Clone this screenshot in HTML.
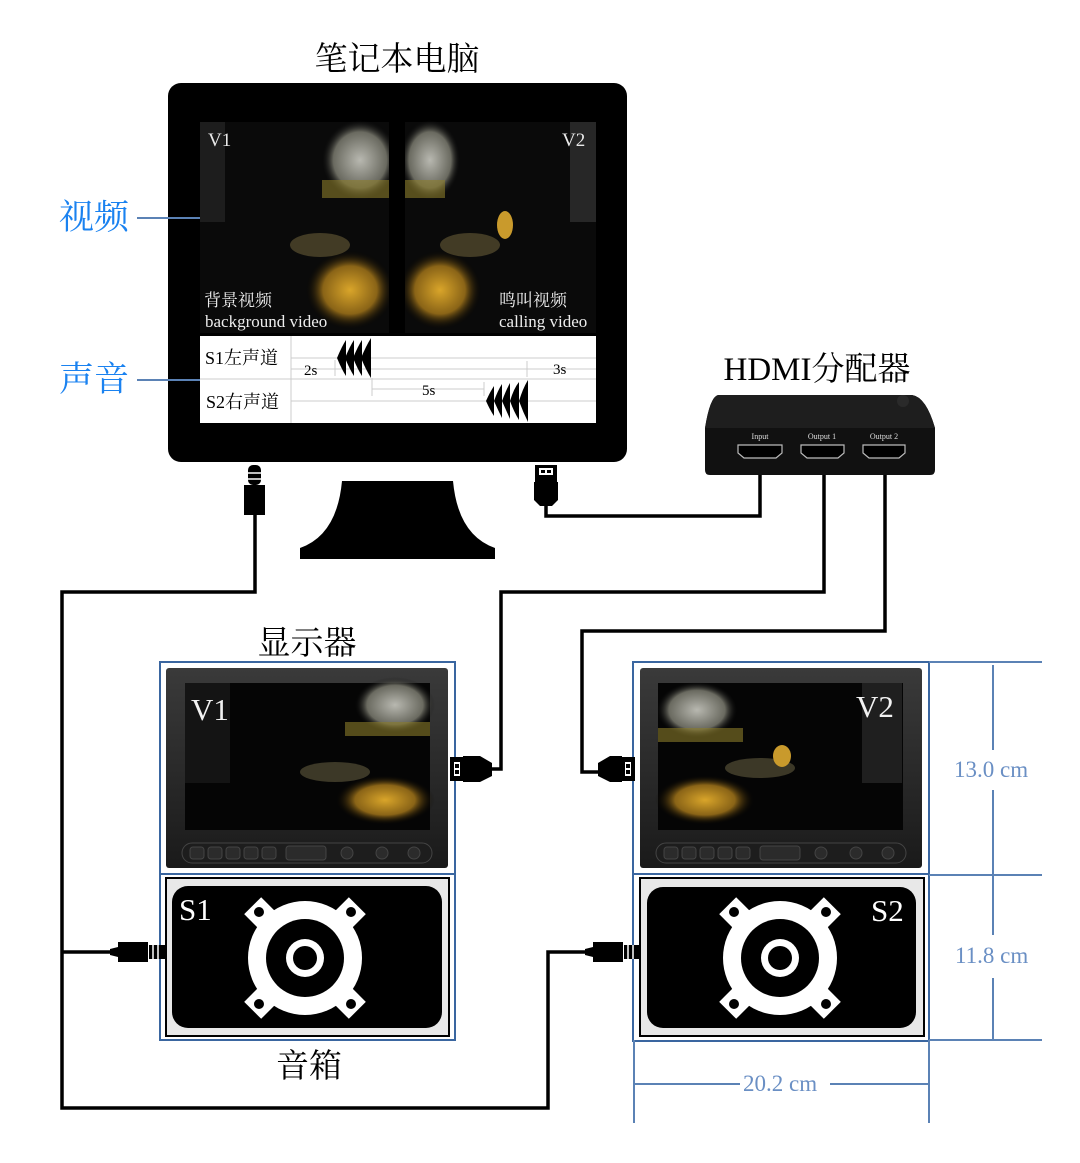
<!DOCTYPE html>
<html><head><meta charset="utf-8"><style>
body{margin:0;background:#fff}
svg{display:block}
.cn{font-family:"Liberation Serif","Noto Serif CJK SC",serif}
</style></head><body>
<svg width="1080" height="1163" viewBox="0 0 1080 1163" xmlns="http://www.w3.org/2000/svg" class="cn">
<defs>
<radialGradient id="gy" cx="0.5" cy="0.5" r="0.5"><stop offset="0" stop-color="#d9a52a"/><stop offset="0.6" stop-color="#8a6417"/><stop offset="1" stop-color="#000" stop-opacity="0"/></radialGradient>
<radialGradient id="gg" cx="0.5" cy="0.5" r="0.5"><stop offset="0" stop-color="#b8b8b0"/><stop offset="0.7" stop-color="#6a6a60"/><stop offset="1" stop-color="#111" stop-opacity="0"/></radialGradient>
<linearGradient id="bz" x1="0" y1="0" x2="0" y2="1"><stop offset="0" stop-color="#3a3a3a"/><stop offset="1" stop-color="#1a1a1a"/></linearGradient>
<g id="spk">
 <g fill="#fff">
  <rect x="-12" y="-74" width="24" height="40" transform="rotate(45)"/>
  <rect x="-12" y="-74" width="24" height="40" transform="rotate(135)"/>
  <rect x="-12" y="-74" width="24" height="40" transform="rotate(225)"/>
  <rect x="-12" y="-74" width="24" height="40" transform="rotate(315)"/>
  <circle r="57"/>
 </g>
 <g fill="#000">
  <circle cx="-46" cy="-46" r="5"/><circle cx="46" cy="-46" r="5"/><circle cx="-46" cy="46" r="5"/><circle cx="46" cy="46" r="5"/>
  <circle r="39"/>
 </g>
 <circle r="19" fill="#fff"/><circle r="12" fill="#000"/>
</g>
<g id="btns" fill="#2b2b2b" stroke="#444" stroke-width="1">
 <rect x="0" y="0" width="250" height="20" rx="10" fill="#1d1d1d"/>
 <rect x="8" y="4" width="14" height="12" rx="3"/><rect x="26" y="4" width="14" height="12" rx="3"/><rect x="44" y="4" width="14" height="12" rx="3"/><rect x="62" y="4" width="14" height="12" rx="3"/><rect x="80" y="4" width="14" height="12" rx="3"/>
 <rect x="104" y="3" width="40" height="14" rx="3"/>
 <circle cx="165" cy="10" r="6"/><circle cx="200" cy="10" r="6"/><circle cx="232" cy="10" r="6"/>
</g>
</defs>

<text x="397" y="70" font-size="33" text-anchor="middle">笔记本电脑</text>
<text x="59" y="229" font-size="35" fill="#1a82f0">视频</text>
<text x="59" y="391" font-size="35" fill="#1a82f0">声音</text>
<line x1="137" y1="218" x2="200" y2="218" stroke="#5b82b5" stroke-width="2"/>
<line x1="137" y1="380" x2="200" y2="380" stroke="#5b82b5" stroke-width="2"/>

<rect x="168" y="83" width="459" height="379" rx="13" fill="#000"/>
<line x1="168" y1="218" x2="200" y2="218" stroke="#5b82b5" stroke-width="2"/>
<line x1="168" y1="380" x2="200" y2="380" stroke="#5b82b5" stroke-width="2"/>
<rect x="200" y="122" width="396" height="211" fill="#050505"/>
<rect x="200" y="122" width="189" height="211" fill="#0a0a0a"/>
<rect x="405" y="122" width="191" height="211" fill="#0a0a0a"/>
<ellipse cx="360" cy="160" rx="38" ry="40" fill="url(#gg)"/>
<ellipse cx="430" cy="160" rx="30" ry="40" fill="url(#gg)"/>
<rect x="322" y="180" width="67" height="18" fill="#8a7b2a" opacity="0.6"/>
<rect x="405" y="180" width="40" height="18" fill="#8a7b2a" opacity="0.6"/>
<ellipse cx="350" cy="290" rx="45" ry="40" fill="url(#gy)"/>
<ellipse cx="440" cy="290" rx="42" ry="40" fill="url(#gy)"/>
<ellipse cx="320" cy="245" rx="30" ry="12" fill="#5a5030" opacity="0.7"/>
<ellipse cx="470" cy="245" rx="30" ry="12" fill="#5a5030" opacity="0.7"/>
<ellipse cx="505" cy="225" rx="8" ry="14" fill="#c99a2c"/>
<rect x="200" y="122" width="25" height="100" fill="#2a2a2a" opacity="0.6"/>
<rect x="570" y="122" width="26" height="100" fill="#3a3a3a" opacity="0.6"/>
<rect x="389" y="122" width="16" height="211" fill="#000"/>
<text x="208" y="146" font-size="19" fill="#e8e8e8">V1</text>
<text x="562" y="146" font-size="19" fill="#e8e8e8">V2</text>
<text x="204" y="306" font-size="17" fill="#eee">背景视频</text>
<text x="205" y="327" font-size="17" fill="#eee">background video</text>
<text x="499" y="306" font-size="17" fill="#eee">鸣叫视频</text>
<text x="499" y="327" font-size="17" fill="#eee">calling video</text>
<rect x="200" y="336" width="396" height="87" fill="#fff"/>
<g stroke="#ccc" stroke-width="1">
<line x1="291" y1="336" x2="291" y2="423"/>
<line x1="291" y1="358" x2="596" y2="358"/>
<line x1="291" y1="369" x2="596" y2="369"/>
<line x1="200" y1="379" x2="596" y2="379"/>
<line x1="372" y1="389" x2="484" y2="389"/>
<line x1="291" y1="401" x2="596" y2="401"/>
<line x1="335" y1="360" x2="335" y2="376"/>
<line x1="372" y1="378" x2="372" y2="396"/>
<line x1="484" y1="382" x2="484" y2="396"/>
<line x1="527" y1="361" x2="527" y2="377"/>
</g>
<text x="205" y="364" font-size="18">S1左声道</text>
<text x="206" y="408" font-size="18">S2右声道</text>
<text x="304" y="375" font-size="15">2s</text>
<text x="553" y="374" font-size="15">3s</text>
<text x="422" y="395" font-size="15">5s</text>
<g fill="#000">
<path d="M337 358 Q342 346 346 340 L346 376 Q342 370 337 358Z"/>
<path d="M345 358 Q350 346 354 340 L354 376 Q350 370 345 358Z"/>
<path d="M353 358 Q358 346 362 340 L362 376 Q358 370 353 358Z"/>
<path d="M361 358 Q366 346 371 338 L371 378 Q366 370 361 358Z"/>
<path d="M486 401 Q490 392 494 386 L494 416 Q490 410 486 401Z"/>
<path d="M494 401 Q498 390 502 384 L502 418 Q498 410 494 401Z"/>
<path d="M502 401 Q506 390 510 383 L510 419 Q506 410 502 401Z"/>
<path d="M510 401 Q514 388 519 382 L519 420 Q514 412 510 401Z"/>
<path d="M519 401 Q523 388 528 380 L528 422 Q523 412 519 401Z"/>
</g>

<path d="M342 481 L453 481 Q458 535 495 548 L495 559 L300 559 L300 548 Q337 535 342 481Z" fill="#000"/>

<g fill="none" stroke="#000" stroke-width="3.5">
<path d="M255 515 L255 592 L62 592 L62 1108 L548 1108 L548 952 L595 952"/>
<path d="M62 952 L118 952"/>
<path d="M546 505 L546 516 L760 516 L760 474"/>
<path d="M824 474 L824 592 L501 592 L501 769 L488 769"/>
<path d="M885 474 L885 631 L582 631 L582 772 L598 772"/>
</g>
<rect x="248" y="465" width="13" height="20" rx="5" fill="#000"/>
<line x1="248" y1="473" x2="261" y2="473" stroke="#fff" stroke-width="1.5"/>
<line x1="248" y1="479" x2="261" y2="479" stroke="#fff" stroke-width="1.5"/>
<rect x="244" y="485" width="21" height="30" fill="#000"/>
<rect x="535" y="465" width="22" height="18" fill="#000"/><rect x="539" y="468" width="14" height="7" fill="#fff"/><rect x="541" y="470" width="4" height="3"/><rect x="547" y="470" width="4" height="3"/>
<path d="M534 482 L558 482 L558 500 L552 506 L540 506 L534 500Z" fill="#000"/>

<text x="817" y="380" font-size="33" text-anchor="middle">HDMI分配器</text>
<path d="M718 395 L912 395 Q926 397 935 428 L935 470 Q935 475 930 475 L710 475 Q705 475 705 470 L705 428 Q710 397 718 395Z" fill="#111"/>
<path d="M718 395 L912 395 Q926 397 935 428 L705 428 Q710 397 718 395Z" fill="#1e1e1e"/>
<circle cx="903" cy="401" r="6" fill="#2a2a2a"/>
<g font-family="Liberation Serif,serif" font-size="8" fill="#ddd" text-anchor="middle">
<text x="760" y="439">Input</text><text x="822" y="439">Output 1</text><text x="884" y="439">Output 2</text></g>
<g fill="#000" stroke="#bbb" stroke-width="1.2">
<path d="M738 445 L782 445 L782 453 L776 458 L744 458 L738 453Z"/>
<path d="M801 445 L844 445 L844 453 L838 458 L807 458 L801 453Z"/>
<path d="M863 445 L905 445 L905 453 L899 458 L869 458 L863 453Z"/>
</g>

<text x="307" y="654" font-size="33" text-anchor="middle">显示器</text>
<rect x="160" y="662" width="295" height="378" fill="none" stroke="#3a66a0" stroke-width="2"/>
<line x1="160" y1="874" x2="455" y2="874" stroke="#3a66a0" stroke-width="2"/>
<rect x="166" y="668" width="282" height="200" rx="3" fill="url(#bz)"/>
<rect x="185" y="683" width="245" height="147" fill="#050505"/>
<ellipse cx="395" cy="705" rx="40" ry="28" fill="url(#gg)"/>
<rect x="345" y="722" width="85" height="14" fill="#8a7b2a" opacity="0.6"/>
<ellipse cx="385" cy="800" rx="50" ry="25" fill="url(#gy)"/>
<ellipse cx="335" cy="772" rx="35" ry="10" fill="#4a4530" opacity="0.8"/>
<rect x="185" y="683" width="45" height="100" fill="#2a2a2a" opacity="0.4"/>
<text x="191" y="720" font-size="31" fill="#f2f2f2">V1</text>
<use href="#btns" x="182" y="843"/>
<rect x="166" y="878" width="283" height="158" fill="#e8e8e8" stroke="#000" stroke-width="2"/>
<rect x="172" y="886" width="270" height="142" rx="16" fill="#000"/>
<text x="179" y="920" font-size="31" fill="#fff">S1</text>
<use href="#spk" x="305" y="958"/>
<text x="309" y="1077" font-size="33" text-anchor="middle">音箱</text>
<rect x="450" y="757" width="14" height="24" fill="#000"/><rect x="454" y="762" width="6" height="14" fill="#fff"/><rect x="455" y="764" width="4" height="4"/><rect x="455" y="770" width="4" height="4"/>
<path d="M463 756 L480 756 L492 763 L492 776 L480 782 L463 782Z" fill="#000"/>
<path d="M110 949 L118 947 L118 942 L148 942 L148 962 L118 962 L118 957 L110 955Z" fill="#000"/>
<rect x="149" y="945" width="16" height="14" fill="#000"/>
<line x1="153" y1="945" x2="153" y2="959" stroke="#fff" stroke-width="1.5"/><line x1="158" y1="945" x2="158" y2="959" stroke="#fff" stroke-width="1.5"/>

<rect x="633" y="662" width="296" height="379" fill="none" stroke="#3a66a0" stroke-width="2"/>
<line x1="633" y1="874" x2="929" y2="874" stroke="#3a66a0" stroke-width="2"/>
<rect x="640" y="668" width="282" height="200" rx="3" fill="url(#bz)"/>
<rect x="658" y="683" width="245" height="147" fill="#050505"/>
<ellipse cx="697" cy="710" rx="40" ry="28" fill="url(#gg)"/>
<rect x="658" y="728" width="85" height="14" fill="#8a7b2a" opacity="0.6"/>
<ellipse cx="705" cy="800" rx="50" ry="25" fill="url(#gy)"/>
<ellipse cx="760" cy="768" rx="35" ry="10" fill="#4a4530" opacity="0.8"/>
<ellipse cx="782" cy="756" rx="9" ry="11" fill="#c99a2c"/>
<rect x="862" y="683" width="40" height="100" fill="#3a3a3a" opacity="0.5"/>
<text x="856" y="717" font-size="31" fill="#f2f2f2">V2</text>
<use href="#btns" x="656" y="843"/>
<rect x="640" y="878" width="284" height="158" fill="#e8e8e8" stroke="#000" stroke-width="2"/>
<rect x="647" y="887" width="269" height="141" rx="16" fill="#000"/>
<text x="871" y="921" font-size="31" fill="#fff">S2</text>
<use href="#spk" x="780" y="958"/>
<path d="M598 763 L610 756 L622 756 L622 782 L610 782 L598 776Z" fill="#000"/>
<rect x="621" y="757" width="14" height="24" fill="#000"/><rect x="625" y="762" width="6" height="14" fill="#fff"/><rect x="626" y="764" width="4" height="4"/><rect x="626" y="770" width="4" height="4"/>
<path d="M585 949 L593 947 L593 942 L623 942 L623 962 L593 962 L593 957 L585 955Z" fill="#000"/>
<rect x="624" y="945" width="16" height="14" fill="#000"/>
<line x1="628" y1="945" x2="628" y2="959" stroke="#fff" stroke-width="1.5"/><line x1="633" y1="945" x2="633" y2="959" stroke="#fff" stroke-width="1.5"/>

<g stroke="#5b82b5" stroke-width="2" fill="none">
<line x1="929" y1="662" x2="1042" y2="662"/>
<line x1="929" y1="875" x2="1042" y2="875"/>
<line x1="929" y1="1040" x2="1042" y2="1040"/>
<line x1="993" y1="665" x2="993" y2="750"/>
<line x1="993" y1="790" x2="993" y2="935"/>
<line x1="993" y1="978" x2="993" y2="1040"/>
<line x1="634" y1="1040" x2="634" y2="1123"/>
<line x1="929" y1="1040" x2="929" y2="1123"/>
<line x1="634" y1="1084" x2="740" y2="1084"/>
<line x1="830" y1="1084" x2="929" y2="1084"/>
</g>
<g fill="#6a8fc4" font-size="23" font-family="Liberation Serif,serif">
<text x="954" y="777">13.0 cm</text>
<text x="955" y="963">11.8 cm</text>
<text x="743" y="1091">20.2 cm</text>
</g>
</svg>
</body></html>
